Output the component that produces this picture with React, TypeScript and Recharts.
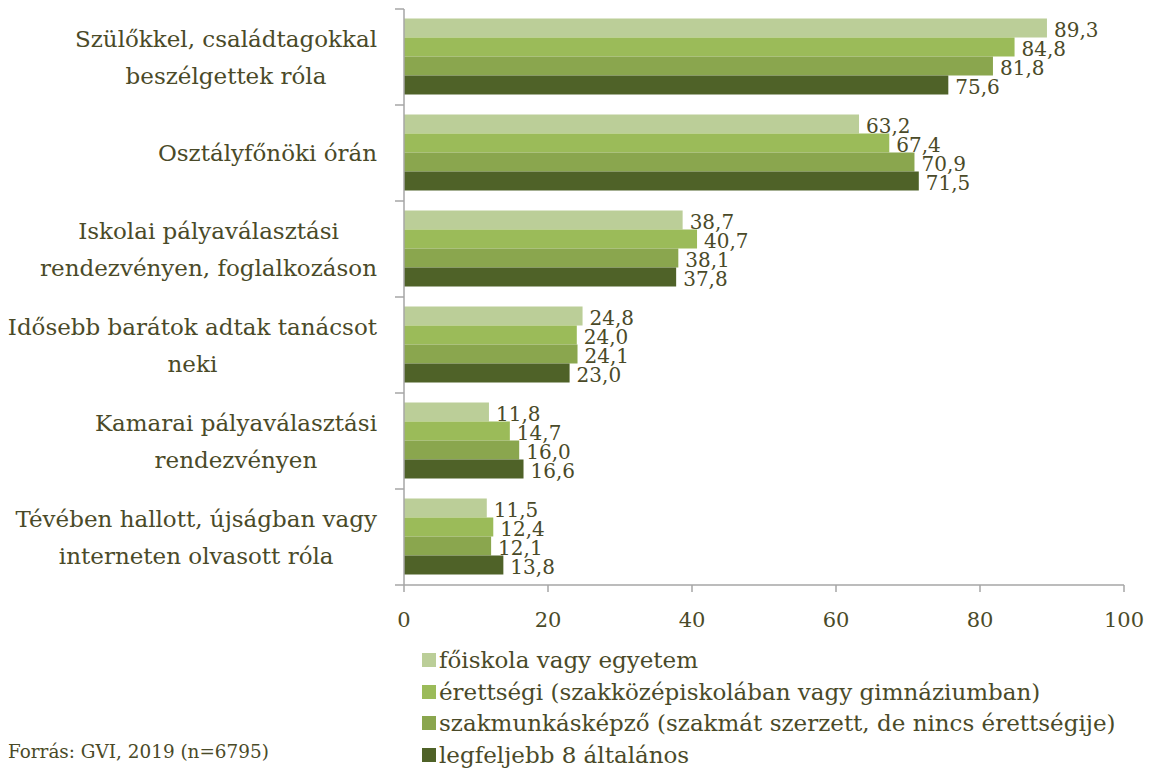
import React from 'react';
import { BarChart, Bar, XAxis, YAxis, LabelList } from 'recharts';

// ---- data ----
const categories: string[] = [
  'Szülőkkel, családtagokkal\nbeszélgettek róla',
  'Osztályfőnöki órán',
  'Iskolai pályaválasztási\nrendezvényen, foglalkozáson',
  'Idősebb barátok adtak tanácsot\nneki',
  'Kamarai pályaválasztási\nrendezvényen',
  'Tévében hallott, újságban vagy\ninterneten olvasott róla',
];
const seriesNames: string[] = [
  'főiskola vagy egyetem',
  'érettségi (szakközépiskolában vagy gimnáziumban)',
  'szakmunkásképző (szakmát szerzett, de nincs érettségije)',
  'legfeljebb 8 általános',
];
const foiskola: number[] = [89.3, 63.2, 38.7, 24.8, 11.8, 11.5];
const erettsegi: number[] = [84.8, 67.4, 40.7, 24.0, 14.7, 12.4];
const szakmunkas: number[] = [81.8, 70.9, 38.1, 24.1, 16.0, 12.1];
const legfeljebb8: number[] = [75.6, 71.5, 37.8, 23.0, 16.6, 13.8];
const xTicks: number[] = [0, 20, 40, 60, 80, 100];
const sourceText = 'Forrás: GVI, 2019 (n=6795)';

// ---- styles ----
const COLORS = ['#bbce98', '#9bbb59', '#8aa64e', '#4f6228'];
const TEXT = '#4a4a28';
const AXIS = '#a6a6a6';
const FONT = '"DejaVu Serif", serif';

const W = 1153;
const H = 774;
const MARGIN = { top: 9, right: 29, left: 0, bottom: 149 };
const Y_WIDTH = 404;
const X_HEIGHT = 40;
const PLOT_H = H - MARGIN.top - MARGIN.bottom - X_HEIGHT;
const BAND = PLOT_H / categories.length;
const AXIS_X = MARGIN.left + Y_WIDTH;
const LABEL_RIGHT = 377;
const CAT_FONT = 23;
const LINE_H = 37;

const data = categories.map((c, i) => ({
  name: c,
  s0: foiskola[i],
  s1: erettsegi[i],
  s2: szakmunkas[i],
  s3: legfeljebb8[i],
}));
const seriesKeys = ['s0', 's1', 's2', 's3'];

let ctx: CanvasRenderingContext2D | null = null;
function measure(text: string, size: number): number {
  if (!ctx) {
    const c = document.createElement('canvas');
    ctx = c.getContext('2d');
  }
  if (!ctx) return text.length * size * 0.55;
  ctx.font = `${size}px "DejaVu Serif"`;
  return ctx.measureText(text).width;
}

const fmt = (v: any) => Number(v).toFixed(1).replace('.', ',');

const YTick = (props: any) => {
  const { y, payload, index } = props;
  const idx = typeof payload?.index === 'number' ? payload.index : index;
  const lines = String(payload.value).split('\n');
  const maxW = Math.max(...lines.map((l) => measure(l, CAT_FONT)));
  const cx = LABEL_RIGHT - maxW / 2;
  const startY = y - ((lines.length - 1) * LINE_H) / 2;
  const half = BAND / 2;
  return (
    <g>
      <line x1={AXIS_X - 9} x2={AXIS_X} y1={y - half} y2={y - half} stroke={AXIS} strokeWidth={1.5} />
      {idx === categories.length - 1 && (
        <line x1={AXIS_X - 9} x2={AXIS_X} y1={y + half} y2={y + half} stroke={AXIS} strokeWidth={1.5} />
      )}
      <text textAnchor="middle" fill={TEXT} fontFamily={FONT} fontSize={CAT_FONT}>
        {lines.map((l, i) => (
          <tspan key={i} x={cx} y={startY + i * LINE_H} dy="0.35em">
            {l}
          </tspan>
        ))}
      </text>
    </g>
  );
};

const ValueLabel = (props: any) => {
  const { x, y, width, height, value } = props;
  return (
    <text
      x={x + width + 7}
      y={y + height / 2 + 2}
      dy="0.35em"
      textAnchor="start"
      fill={TEXT}
      fontFamily={FONT}
      fontSize={20}
    >
      {fmt(value)}
    </text>
  );
};

export default function App() {
  return (
    <div style={{ position: 'absolute', left: 0, top: 0, width: W, height: H, background: '#fff' }}>
      <BarChart
        width={W}
        height={H}
        data={data}
        layout="vertical"
        margin={MARGIN}
        barCategoryGap="10%"
        barGap={0}
      >
        <XAxis
          type="number"
          domain={[0, 100]}
          ticks={xTicks}
          height={X_HEIGHT}
          axisLine={{ stroke: AXIS, strokeWidth: 1.5 }}
          tickLine={{ stroke: AXIS, strokeWidth: 1.5 }}
          tickSize={7}
          tickMargin={20}
          tick={{ fill: TEXT, fontFamily: FONT, fontSize: 21 }}
        />
        <YAxis
          type="category"
          dataKey="name"
          width={Y_WIDTH}
          axisLine={{ stroke: AXIS, strokeWidth: 1.5 }}
          tickLine={false}
          tick={<YTick />}
          interval={0}
        />
        {seriesKeys.map((k, i) => (
          <Bar key={k} dataKey={k} name={seriesNames[i]} fill={COLORS[i]} isAnimationActive={false}>
            <LabelList dataKey={k} content={<ValueLabel />} />
          </Bar>
        ))}
      </BarChart>
      {seriesNames.map((n, i) => (
        <div
          key={n}
          style={{
            position: 'absolute',
            left: 422,
            top: 660 + i * 31.7 - 15,
            height: 30,
            display: 'flex',
            alignItems: 'center',
            fontFamily: FONT,
            fontSize: 23,
            color: TEXT,
            whiteSpace: 'nowrap',
          }}
        >
          <span style={{ display: 'inline-block', width: 14, height: 14, background: COLORS[i], marginRight: 3 }} />
          <span>{n}</span>
        </div>
      ))}
      <div
        style={{
          position: 'absolute',
          left: 8,
          top: 752 - 12,
          height: 24,
          lineHeight: '24px',
          fontFamily: FONT,
          fontSize: 18.4,
          color: TEXT,
          whiteSpace: 'nowrap',
        }}
      >
        {sourceText}
      </div>
    </div>
  );
}
